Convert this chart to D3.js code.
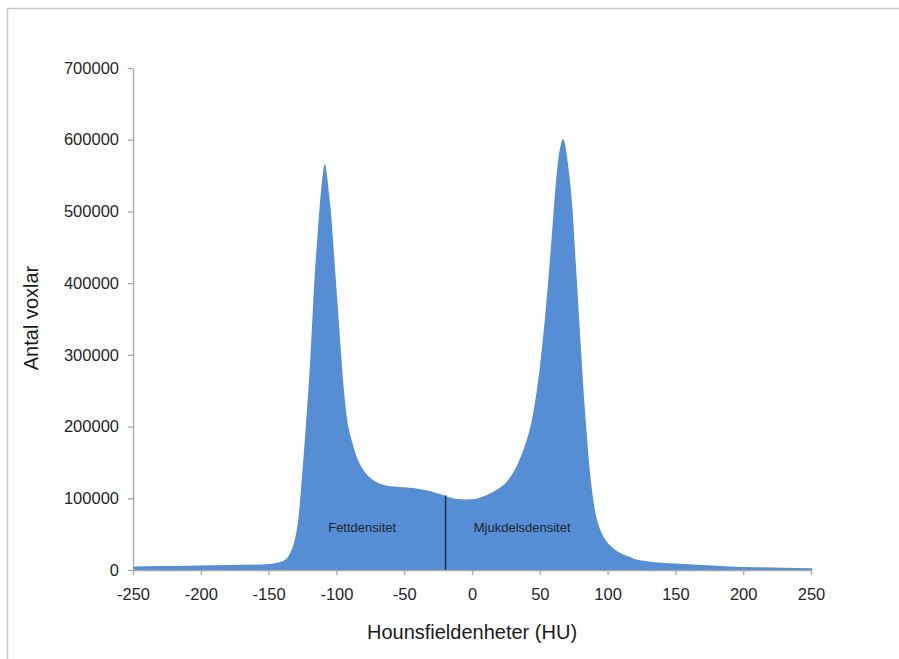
<!DOCTYPE html>
<html>
<head>
<meta charset="utf-8">
<script src="https://cdn.jsdelivr.net/npm/d3@7"></script>
<style>
    body { margin: 0; background: #fff; }
    svg { display: block; font-family: "Liberation Sans", Arial, sans-serif; }
    .axis path, .axis line { stroke: #a6a6a6; }
    .axis text { fill: #262626; }
</style>
</head>
<body>
<div id="chart"></div>
<script>
// histogram (HU -> number of voxels)
let hu = [-250, -230, -210, -190, -170, -155, -148, -143, -139, -136, -134, -132, -130, -128, -126,
    -124, -122, -120, -118, -116, -114, -112, -110, -108.5, -107, -105.5, -104, -102.5, -101, -99.5, -98, -96.5, -95,
    -93.5, -92, -90, -88, -85.5, -83, -80, -76, -71, -65, -58, -50, -42, -36, -30, -25, -20, -15, -10, -5,
    0, 5, 10, 15, 20, 25, 28, 31, 34, 37, 40, 43, 46, 48, 50, 52, 54, 56, 58, 60, 62, 64, 65.5, 67, 68.5, 70,
    71.5, 73, 74.5, 76, 77.5, 79, 80.5, 82, 83.5, 85, 86.5, 88, 89.5, 91, 93, 95, 97.5, 100, 104, 109, 115, 120, 130, 140, 150,
    170, 190, 210, 230, 251];
let voxels = [5000, 5500, 6000, 6500, 7200, 7800, 8800, 10500, 13000, 17500, 24000, 33000, 48000, 72000, 115000,
    163000, 215000, 270000, 340000, 410000, 465000, 515000, 552000, 566000, 552000, 525000, 498000, 460000, 420000, 380000, 340000, 300000, 262000,
    232000, 208000, 190000, 176000, 160000, 149000, 139000, 130000, 123000, 118500, 116500, 115500, 114000, 112000, 109500, 106500, 103500, 100500, 99000, 98300,
    98500, 100500, 104000, 108500, 114000, 121500, 129000, 138000, 149000, 163000, 179000, 199000, 228000, 253000, 282000, 317000, 355000, 398000, 445000, 495000, 543000, 578000, 593000, 601000, 595000, 577000,
    555000, 528000, 492000, 444000, 398000, 350000, 304000, 258000, 217000, 180000, 146000, 119000, 97000, 80000, 65000, 54000, 44500, 38000, 30500, 24000, 19000, 15500, 12000, 10200, 9000,
    6800, 5000, 4000, 3000, 2300];

let xTicks = [-250, -200, -150, -100, -50, 0, 50, 100, 150, 200, 250];
let yTicks = [0, 100000, 200000, 300000, 400000, 500000, 600000, 700000];

let regionLabels = ["Fettdensitet", "Mjukdelsdensitet"];
let regionLabelHU = [-81, 37];
let regionLabelValue = [59000, 59000];
let dividerHU = -19.5;
let dividerValue = 104000;

let width = 899, height = 659;
let margin = {top: 68, right: 88, bottom: 89, left: 133};

let data = hu.map((h, i) => ({hu: h, n: voxels[i]}));

let svg = d3.select("#chart").append("svg")
    .attr("width", width)
    .attr("height", height);

svg.append("rect")
    .attr("width", width)
    .attr("height", height)
    .attr("fill", "#fff");

// outer frame (only top and left edges fall inside the picture)
svg.append("path")
    .attr("d", "M7.5," + height + "V8.5H" + width)
    .attr("fill", "none")
    .attr("stroke", "#c8c8c8")
    .attr("stroke-width", 1.5);

let x = d3.scaleLinear()
    .domain([-250, 250])
    .range([margin.left, width - margin.right]);

let y = d3.scaleLinear()
    .domain([0, 700000])
    .range([height - margin.bottom, margin.top]);

let area = d3.area()
    .x(d => x(d.hu))
    .y0(y(0))
    .y1(d => y(d.n))
    .curve(d3.curveMonotoneX);

svg.append("path")
    .datum(data)
    .attr("d", area)
    .attr("fill", "#558ed5");

// divider between fat and soft tissue
svg.append("line")
    .attr("x1", x(dividerHU))
    .attr("x2", x(dividerHU))
    .attr("y1", y(dividerValue))
    .attr("y2", y(0))
    .attr("stroke", "#1f2a3a")
    .attr("stroke-width", 1.5);

svg.selectAll(".regionLabel")
    .data(regionLabels)
    .enter()
    .append("text")
    .attr("class", "regionLabel")
    .attr("x", (d, i) => x(regionLabelHU[i]))
    .attr("y", (d, i) => y(regionLabelValue[i]))
    .attr("text-anchor", "middle")
    .attr("dy", "0.35em")
    .style("font-size", "13px")
    .style("fill", "#1f2630")
    .text(d => d);

// axes
let yAxis = svg.append("g")
    .attr("class", "axis")
    .attr("transform", "translate(" + margin.left + ",0)")
    .call(d3.axisLeft(y).tickValues(yTicks).tickFormat(d => String(d)).tickSize(5).tickSizeOuter(0));

yAxis.selectAll("text")
    .attr("x", -14)
    .style("font-size", "16.5px");

let xAxis = svg.append("g")
    .attr("class", "axis")
    .attr("transform", "translate(0," + y(0) + ")")
    .call(d3.axisBottom(x).tickValues(xTicks).tickFormat(d => String(d)).tickSize(5).tickSizeOuter(0));

xAxis.selectAll("text")
    .attr("y", 18)
    .style("font-size", "16.5px");

svg.selectAll(".axis path, .axis line").attr("stroke-width", 1.3);

// axis titles
svg.append("text")
    .attr("x", x(0))
    .attr("y", 639)
    .attr("text-anchor", "middle")
    .style("font-size", "20px")
    .style("fill", "#1a1a1a")
    .text("Hounsfieldenheter (HU)");

svg.append("text")
    .attr("transform", "translate(38," + 318 + ") rotate(-90)")
    .attr("text-anchor", "middle")
    .style("font-size", "20px")
    .style("fill", "#1a1a1a")
    .text("Antal voxlar");
</script>
</body>
</html>
